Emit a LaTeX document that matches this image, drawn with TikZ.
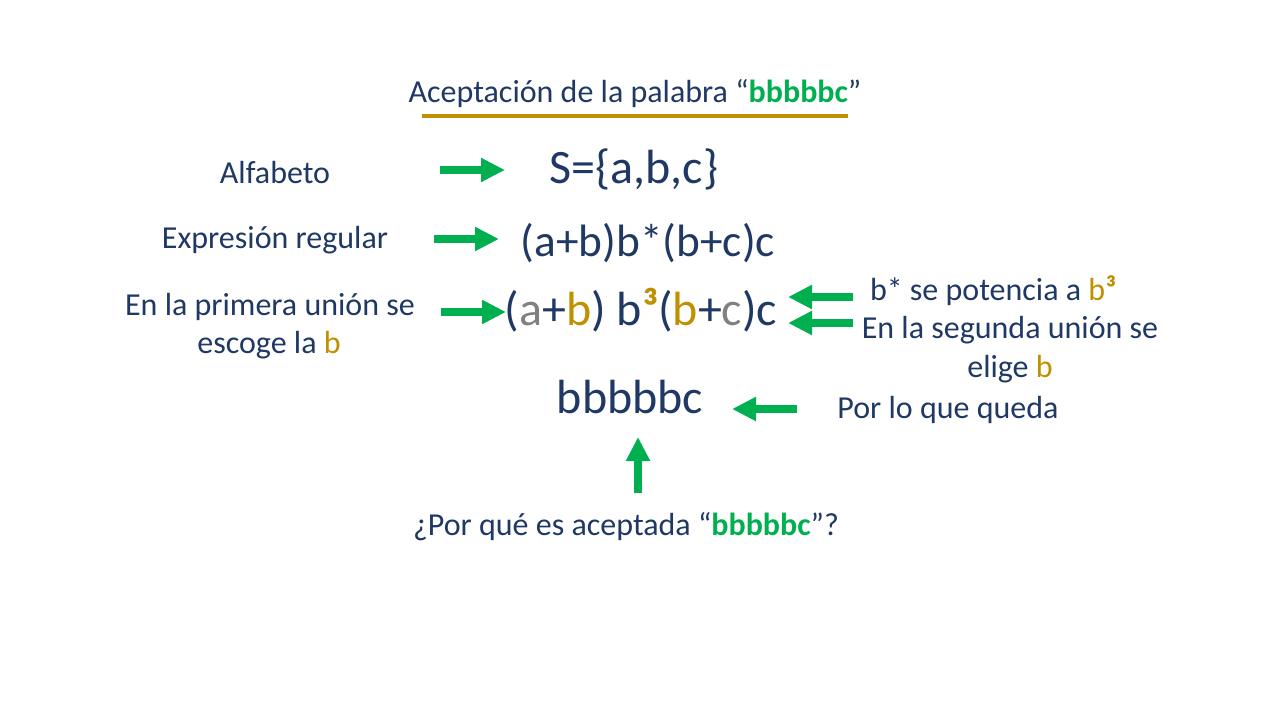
\documentclass[tikz,border=0pt]{standalone}
\usepackage{fontspec}
\setmainfont{Carlito}
\usetikzlibrary{arrows.meta}
\definecolor{navy}{HTML}{1F3864}
\definecolor{gold}{HTML}{BF9000}
\definecolor{grn}{HTML}{00B050}
\definecolor{gry}{HTML}{808080}
\begin{document}
\begin{tikzpicture}[x=0.75pt,y=-0.75pt,
  lbl/.style={text=navy,font=\fontsize{24}{29}\selectfont,inner sep=0pt,anchor=base},
  eq/.style={text=navy,font=\fontsize{34}{40}\selectfont,inner sep=0pt,anchor=base},
  big/.style={text=navy,font=\fontsize{36}{42}\selectfont,inner sep=0pt,anchor=base},
  garrow/.style={draw=grn,line width=6pt,-{Triangle[length=18pt,width=17pt]}},
]
\useasboundingbox (0,0) rectangle (1280,720);
% title
\node[lbl] (title) at (635,103) {Aceptación de la palabra “\textcolor{grn}{\textbf{bbbbbc}}”};
\coordinate (ulL) at (422,116);
\coordinate (ulR) at (848,116);
\draw[draw=gold,line width=3pt] (ulL) -- (ulR);
% left labels
\node[lbl] (alf) at (275,184) {Alfabeto};
\node[lbl] (expr) at (275,248) {Expresión regular};
\node[lbl] (prim1) at (270,315) {En la primera unión se};
\node[lbl] (prim2) at (269,353) {escoge la \textcolor{gold}{b}};
% equations
\node[big] (sig) at (634,184) {S=\{a,b,c\}};
\node[eq] (re) at (648,256) {(a+b)b*(b+c)c};
\node[big] (re3) at (641,325) {(\textcolor{gry}{a}+\textcolor{gold}{b}) b\textcolor{gold}{\textbf{³}}(\textcolor{gold}{b}+\textcolor{gry}{c})c};
\node[big] (word) at (630,413) {bbbbbc};
% right labels
\node[lbl] (pot) at (993,300) {b* se potencia a \textcolor{gold}{b\textbf{³}}};
\node[lbl] (seg1) at (1010,338) {En la segunda unión se};
\node[lbl] (seg2) at (1010,377) {elige \textcolor{gold}{b}};
\node[lbl] (queda) at (948,418) {Por lo que queda};
\node[lbl] (why) at (626,535) {¿Por qué es aceptada “\textcolor{grn}{\textbf{bbbbbc}}”?};
% arrow coordinates
\coordinate (a1s) at (440,170); \coordinate (a1e) at (505,170);
\coordinate (a2s) at (434,239); \coordinate (a2e) at (499,239);
\coordinate (a3s) at (441,312); \coordinate (a3e) at (506,312);
\coordinate (a4s) at (853,297); \coordinate (a4e) at (788,297);
\coordinate (a5s) at (853,323); \coordinate (a5e) at (788,323);
\coordinate (a6s) at (797,409); \coordinate (a6e) at (732,409);
\coordinate (a7s) at (638,493); \coordinate (a7e) at (638,437);
\draw[garrow] (a1s) -- (a1e);
\draw[garrow] (a2s) -- (a2e);
\draw[garrow] (a3s) -- (a3e);
\draw[garrow] (a4s) -- (a4e);
\draw[garrow] (a5s) -- (a5e);
\draw[garrow] (a6s) -- (a6e);
\draw[garrow] (a7s) -- (a7e);
\end{tikzpicture}
\end{document}
